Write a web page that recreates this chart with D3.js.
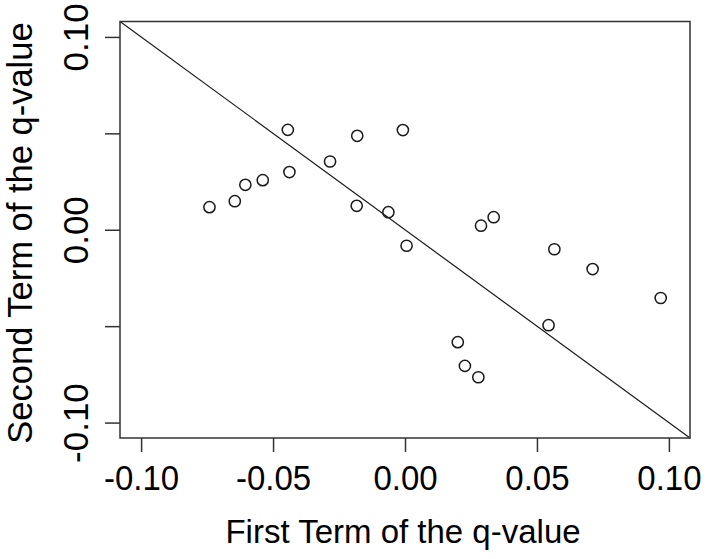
<!DOCTYPE html>
<html>
<head>
<meta charset="utf-8">
<script src="https://cdn.jsdelivr.net/npm/d3@7"></script>
<style>
  html, body { margin: 0; padding: 0; background: #fff; }
  svg { display: block; font-family: "Liberation Sans", Arial, Helvetica, sans-serif; }
</style>
</head>
<body>
<svg id="chart" width="709" height="559"></svg>
<script>
// ---- data ----
const firstTerm = [-0.0741, -0.0645, -0.0605, -0.0539, -0.0444, -0.0438, -0.0284,
                   -0.0181, -0.0183, -0.0063, -0.0008, 0.0006, 0.0288, 0.0336,
                   0.0566, 0.0711, 0.0969, 0.0544, 0.0200, 0.0227, 0.0278];
const secondTerm = [0.0117, 0.0148, 0.0233, 0.0257, 0.0518, 0.0299, 0.0354,
                    0.0487, 0.0124, 0.0091, 0.0517, -0.0083, 0.0021, 0.0065,
                    -0.0101, -0.0204, -0.0354, -0.0495, -0.0583, -0.0706, -0.0765];
const xTickValues = [-0.10, -0.05, 0.00, 0.05, 0.10];
const xTickLabels = ["-0.10", "-0.05", "0.00", "0.05", "0.10"];
const yTickValues = [-0.10, -0.05, 0.00, 0.05, 0.10];
const yTickLabels = ["-0.10", "", "0.00", "", "0.10"];
const axisLimit = [-0.108, 0.108];
const xTitle = "First Term of the q-value";
const yTitle = "Second Term of the q-value";

// ---- layout ----
const padL = 120, padR = 690, padT = 21.5, padB = 438;
const svg = d3.select("#chart");
const x = d3.scaleLinear().domain(axisLimit).range([padL, padR]);
const y = d3.scaleLinear().domain(axisLimit).range([padB, padT]);
const ink = "#1a1a1a";

// diagonal reference line y = -x across the plotting region
const lineData = axisLimit.map(v => [v, -v]);
svg.append("path")
  .attr("d", d3.line().x(d => x(d[0])).y(d => y(d[1]))(lineData))
  .attr("fill", "none").attr("stroke", ink).attr("stroke-width", 1.2);

// box
svg.append("rect")
  .attr("x", padL).attr("y", padT)
  .attr("width", padR - padL).attr("height", padB - padT)
  .attr("fill", "none").attr("stroke", "#333").attr("stroke-width", 1.5);

// x axis
const gx = svg.append("g").attr("transform", `translate(0,${padB})`)
  .call(d3.axisBottom(x).tickValues(xTickValues).tickSize(14).tickSizeOuter(0)
        .tickFormat((d, i) => xTickLabels[i]));
gx.select(".domain").remove();
gx.selectAll(".tick line").attr("stroke", "#333").attr("stroke-width", 1.5);
gx.selectAll(".tick text")
  .attr("transform", "scale(1,1.08)")
  .attr("y", 52 / 1.08).attr("dy", 0)
  .attr("fill", "#000").attr("font-size", 33)
  .attr("font-family", "Liberation Sans, Arial, sans-serif");

// y axis
const gy = svg.append("g").attr("transform", `translate(${padL},0)`)
  .call(d3.axisLeft(y).tickValues(yTickValues).tickSize(15).tickSizeOuter(0)
        .tickFormat((d, i) => yTickLabels[i]));
gy.select(".domain").remove();
gy.selectAll(".tick line").attr("stroke", "#333").attr("stroke-width", 1.5);
gy.selectAll(".tick text")
  .attr("transform", "rotate(-90)")
  .attr("x", 0).attr("y", -32).attr("dy", 0)
  .attr("text-anchor", "middle")
  .attr("fill", "#000").attr("font-size", 35)
  .attr("font-family", "Liberation Sans, Arial, sans-serif");

// points
svg.append("g").selectAll("circle")
  .data(firstTerm.map((v, i) => [v, secondTerm[i]]))
  .join("circle")
  .attr("cx", d => x(d[0])).attr("cy", d => y(d[1]))
  .attr("r", 5.6)
  .attr("fill", "none").attr("stroke", ink).attr("stroke-width", 1.5);

// titles
svg.append("text")
  .attr("x", 403).attr("y", 543)
  .attr("text-anchor", "middle").attr("font-size", 33).attr("fill", "#000")
  .text(xTitle);
svg.append("text")
  .attr("transform", "translate(32,233) rotate(-90)")
  .attr("text-anchor", "middle").attr("font-size", 34.5).attr("fill", "#000")
  .text(yTitle);
</script>
</body>
</html>
